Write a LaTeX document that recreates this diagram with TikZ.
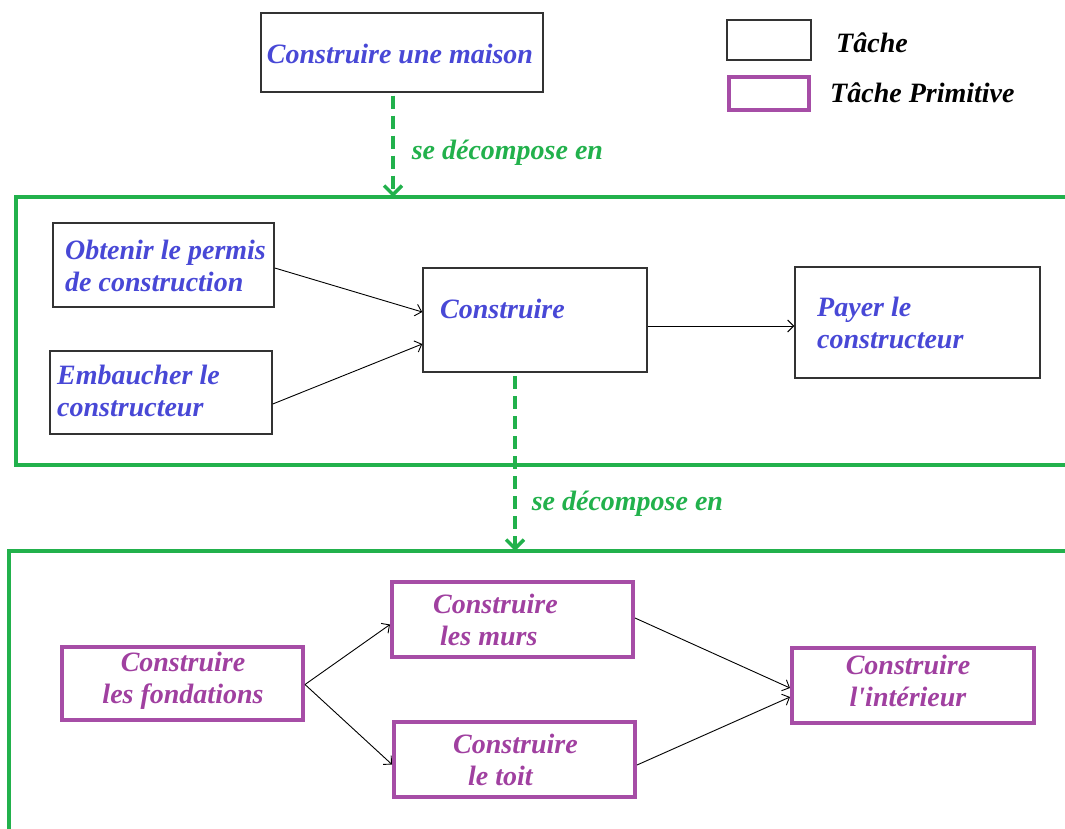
\documentclass[tikz,border=0pt]{standalone}
\usepackage{fontspec}
\setmainfont{Liberation Serif}
\usetikzlibrary{arrows.meta,positioning}

\definecolor{vertdec}{RGB}{34,177,76}
\definecolor{bleutxt}{RGB}{72,72,214}
\definecolor{violetprim}{RGB}{166,77,166}
\definecolor{violettxt}{RGB}{160,64,160}
\newcommand\police{\bfseries\itshape\fontsize{28}{32}\selectfont}

\tikzset{
    tache/.style={draw=black!80, line width=1.5pt, inner sep=0pt},
    primitive/.style={draw=violetprim, line width=4pt, inner sep=0pt},
    txt/.style={font=\police, inner sep=0pt, text=bleutxt, align=left},
    txtprim/.style={txt, text=violettxt},
    fleche/.style={-{Straight Barb[length=6pt,width=12pt]}, line width=0.9pt},
    decomp/.style={vertdec, line width=3.5pt, dash pattern=on 13pt off 7pt,
        -{Straight Barb[length=9pt,width=18pt]}},
    cadre/.style={vertdec, line width=4pt}
}

\begin{document}
\begin{tikzpicture}[x=1pt, y=-1pt]
    \useasboundingbox (0,0) rectangle (1065,829);

    % legende
    \node[tache, minimum width=84pt, minimum height=40pt] (legtache) at (769,40) {};
    \node[txt, text=black, anchor=west] (tlegtache) at (836,43) {Tâche};
    \node[primitive, minimum width=80pt, minimum height=33pt] (legprim) at (769,94) {};
    \node[txt, text=black, anchor=west] (tlegprim) at (830,93) {Tâche Primitive};

    % tache racine
    \node[tache, minimum width=282pt, minimum height=79pt] (maison) at (402,52.5) {};
    \node[txt] (tmaison) at (400,54) {Construire une maison};

    % premier niveau
    \coordinate (c1) at (393,197);
    \draw[cadre] (1065,197) -- (16,197) -- (16,465) -- (1065,465);
    \node[tache, minimum width=221pt, minimum height=84pt] (permis) at (163.5,265) {};
    \node[txt, anchor=west] (tpermis) at (65,266) {Obtenir le permis\\de construction};
    \node[tache, minimum width=222pt, minimum height=83pt] (embaucher) at (161,392.5) {};
    \node[txt, anchor=west] (tembaucher) at (57,391) {Embaucher le\\constructeur};
    \node[tache, minimum width=224pt, minimum height=104pt] (cons) at (535,320) {};
    \node[txt, anchor=west] (tcons) at (440,309) {Construire};
    \node[tache, minimum width=245pt, minimum height=111pt] (payer) at (917.5,322.5) {};
    \node[txt, anchor=west] (tpayer) at (817,323) {Payer le\\constructeur};

    \draw[fleche] ([yshift=-3pt]permis.east) -- ([yshift=8pt]cons.west);
    \draw[fleche] ([yshift=-11.5pt]embaucher.east) -- ([yshift=-24pt]cons.west);
    \draw[fleche] ([yshift=-6pt]cons.east) -- ([yshift=-6pt]cons.east -| payer.west);

    \draw[decomp] ([xshift=-9pt,yshift=-3pt]maison.south) --
        node[pos=.56, right=17pt, txt, text=vertdec] (tdec1) {se décompose en} (c1);

    % second niveau
    \coordinate (c2) at (515,551);
    \draw[cadre] (1065,551) -- (9,551) -- (9,829);
    \node[primitive, minimum width=241pt, minimum height=73pt] (fondations) at (182.5,683.5) {};
    \node[txtprim, align=center] (tfondations) at (183,681) {Construire\\les fondations};
    \node[primitive, minimum width=241pt, minimum height=75pt] (murs) at (512.5,619.5) {};
    \node[txtprim, anchor=west] (tmurs) at (433,620) {Construire\\\hspace*{7pt}les murs};
    \node[primitive, minimum width=241pt, minimum height=75pt] (toit) at (514.5,759.5) {};
    \node[txtprim, anchor=west] (ttoit) at (453,760) {Construire\\\hspace*{15pt}le toit};
    \node[primitive, minimum width=242pt, minimum height=75pt] (interieur) at (913,685.5) {};
    \node[txtprim, align=center] (tinterieur) at (908,681) {Construire\\l\textquotesingle intérieur};

    \draw[fleche] ([yshift=-1pt]fondations.east) -- ([yshift=-5pt]murs.west);
    \draw[fleche] ([yshift=-1pt]fondations.east) -- ([yshift=-5pt]toit.west);
    \draw[fleche] ([yshift=1.5pt]murs.east) -- ([yshift=-2.5pt]interieur.west);
    \draw[fleche] ([yshift=-5.5pt]toit.east) -- ([yshift=-11.5pt]interieur.west);

    \draw[decomp] ([xshift=-20pt,yshift=-3pt]cons.south) --
        node[pos=.73, right=15pt, txt, text=vertdec] (tdec2) {se décompose en} (c2);
\end{tikzpicture}
\end{document}
